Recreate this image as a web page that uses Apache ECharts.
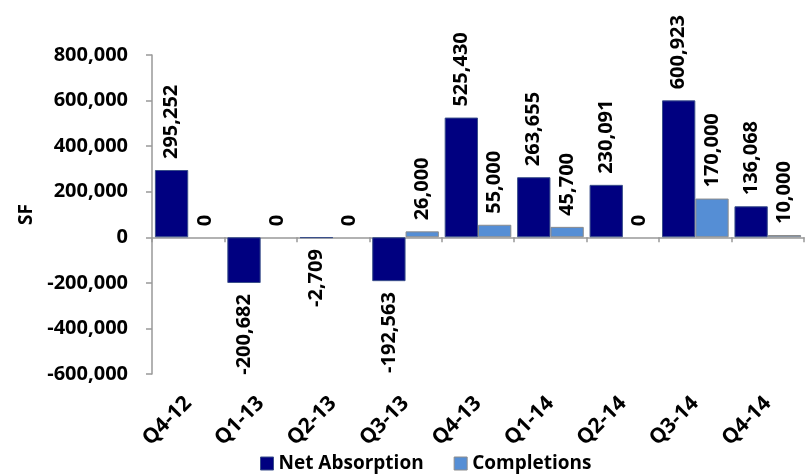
<!DOCTYPE html>
<html>
<head>
<meta charset="utf-8">
<script src="https://cdn.jsdelivr.net/npm/echarts@6/dist/echarts.min.js"></script>
<style>html,body{margin:0;padding:0;background:#fff;}#c{width:810px;height:475px;}</style>
</head>
<body>
<div id="c"></div>
<script>
const categories = ['Q4-12','Q1-13','Q2-13','Q3-13','Q4-13','Q1-14','Q2-14','Q3-14','Q4-14'];
const netAbsorption = [295252, -200682, -2709, -192563, 525430, 263655, 230091, 600923, 136068];
const completions = [0, 0, 0, 26000, 55000, 45700, 0, 170000, 10000];
const yTicks = { min: -600000, max: 800000, interval: 200000 };

const FONT = 'Open Sans';
const fmt = v => Number(v).toLocaleString('en-US');

function withLabels(arr) {
  return arr.map(v => ({
    value: v,
    itemStyle: v === 0 ? { borderWidth: 0 } : undefined,
    label: v < 0
      ? { position: 'bottom', align: 'right' }
      : { position: 'top', align: 'left' }
  }));
}

const labelBase = {
  show: true, rotate: 90, distance: 11, verticalAlign: 'middle',
  fontFamily: FONT, fontWeight: 'bold', fontSize: 20, color: '#000',
  formatter: p => fmt(p.value)
};

const chart = echarts.init(document.getElementById('c'), null, { renderer: 'canvas' });
chart.setOption({
  animation: false,
  backgroundColor: '#fff',
  grid: { left: 152, right: 6, top: 55, bottom: 101, containLabel: false },
  legend: {
    top: 449, left: 255, itemWidth: 13, itemHeight: 13, itemGap: 30, icon: 'rect',
    textStyle: { fontFamily: FONT, fontWeight: 'bold', fontSize: 19, color: '#000' },
    data: [
      { name: 'Net Absorption', itemStyle: { color: '#000080', borderColor: '#3a4f8a', borderWidth: 1 } },
      { name: 'Completions', itemStyle: { color: '#558ED5', borderColor: '#8c8c8c', borderWidth: 1 } }
    ]
  },
  xAxis: [
    {
      type: 'category', data: categories,
      axisLine: { onZero: true, lineStyle: { color: '#999', width: 1.5 } },
      axisTick: { show: true, length: 5, lineStyle: { color: '#999', width: 1.5 } },
      axisLabel: { show: false }
    },
    {
      type: 'category', data: categories, position: 'bottom',
      axisLine: { show: false, onZero: false }, axisTick: { show: false },
      axisLabel: {
        rotate: 45, margin: 26, interval: 0,
        fontFamily: FONT, fontWeight: 'bold', fontSize: 21, color: '#000'
      }
    }
  ],
  yAxis: {
    type: 'value', min: yTicks.min, max: yTicks.max, interval: yTicks.interval,
    name: 'SF', nameLocation: 'middle', nameGap: 116, nameRotate: 90,
    nameTextStyle: { fontFamily: FONT, fontWeight: 'bold', fontSize: 19, color: '#000' },
    axisLine: { show: true, lineStyle: { color: '#999', width: 1.5 } },
    axisTick: { show: true, length: 6, lineStyle: { color: '#999', width: 1.5 } },
    splitLine: { show: false },
    axisLabel: {
      margin: 24, fontFamily: FONT, fontWeight: 'bold', fontSize: 20, color: '#000',
      formatter: v => fmt(v)
    }
  },
  series: [
    {
      name: 'Net Absorption', type: 'bar', xAxisIndex: 0,
      barGap: '0%', barCategoryGap: '8%',
      itemStyle: { color: '#000080', borderColor: '#3a4f8a', borderWidth: 1 },
      label: labelBase,
      data: withLabels(netAbsorption)
    },
    {
      name: 'Completions', type: 'bar', xAxisIndex: 0,
      barGap: '0%', barCategoryGap: '8%',
      itemStyle: { color: '#558ED5', borderColor: '#8c8c8c', borderWidth: 1 },
      label: labelBase,
      data: withLabels(completions)
    }
  ]
});
</script>
</body>
</html>
